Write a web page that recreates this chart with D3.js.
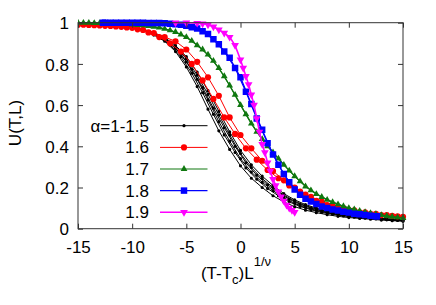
<!DOCTYPE html>
<html><head><meta charset="utf-8">
<script src="https://cdn.jsdelivr.net/npm/d3@7"></script>
<style>
html,body{margin:0;padding:0;background:#fff;}
text{font-family:"Liberation Sans",Arial,sans-serif;fill:#000;}
</style></head>
<body><svg id="chart" width="436" height="305"></svg>
<script>
// ---------- data ----------
const xTicks = [-15,-10,-5,0,5,10,15];
const yTicks = [0,0.2,0.4,0.6,0.8,1];
const yTickLabels = ["0","0.2","0.4","0.6","0.8","1"];
const legendLabels = ["\u03b1=1-1.5","1.6","1.7","1.8","1.9"];

const xInt = [-15,-14,-13,-12,-11,-10,-9,-8,-7,-6,-5,-4,-3,-2,-1,0,1,2,3,4,5,6,7,8,9,10,11,12,13,14,15];
const xHalf = [-14.5,-13.5,-12.5,-11.5,-10.5,-9.5,-8.5,-7.5,-6.5,-5.5,-4.5,-3.5,-2.5,-1.5,-0.5,0.5,1.5,2.5,3.5,4.5,5.5,6.5,7.5,8.5,9.5,10.5,11.5,12.5,13.5,14.5];

// alpha = 1 - 1.5 (black)
const black1 = [.995,.993,.99,.987,.982,.975,.962,.94,.91,.86,.785,.69,.58,.475,.385,.305,.245,.20,.16,.13,.107,.09,.078,.068,.06,.054,.05,.046,.042,.039,.036];
const black2 = [.994,.991,.988,.984,.978,.968,.954,.93,.892,.835,.755,.66,.555,.455,.37,.295,.24,.195,.16,.13,.108,.092,.079,.07,.062,.056,.051,.047,.043,.04];
const black3 = [.995,.993,.991,.988,.983,.976,.965,.946,.918,.875,.81,.725,.625,.52,.425,.34,.275,.225,.185,.15,.123,.103,.089,.077,.068,.061,.055,.05,.046,.042,.039];
const black4 = [.995,.992,.989,.985,.98,.971,.957,.935,.9,.848,.775,.685,.585,.49,.40,.32,.26,.213,.175,.143,.118,.10,.086,.075,.066,.06,.054,.05,.046,.042];
const black5 = [.996,.994,.991,.989,.984,.977,.967,.95,.924,.884,.825,.745,.652,.552,.455,.365,.297,.243,.20,.163,.134,.112,.096,.084,.073,.066,.059,.053,.049,.045,.042];
const black6 = [.996,.994,.992,.989,.985,.978,.968,.952,.928,.89,.835,.76,.67,.57,.47,.38,.31,.255,.21,.17,.14,.117,.10,.087,.076,.068,.061,.055,.05,.046,.043];

// alpha = 1.6 (red)
const red1 = [.99,.989,.987,.984,.98,.975,.965,.95,.93,.91,.87,.81,.735,.645,.54,.455,.39,.33,.28,.235,.20,.165,.135,.115,.10,.09,.08,.072,.066,.062,.058];
const red2 = [.99,.988,.985,.982,.977,.968,.953,.93,.90,.86,.80,.72,.63,.54,.46,.39,.335,.285,.245,.21,.18,.155,.132,.113,.10,.089,.08,.072,.066,.06];

// alpha = 1.7 (green)
const green1 = [1.0,.999,.998,.996,.994,.991,.987,.98,.97,.955,.93,.89,.845,.78,.695,.60,.51,.435,.37,.31,.255,.205,.168,.14,.118,.10,.086,.075,.066,.058,.052];
const green2 = [.999,.998,.997,.995,.993,.989,.984,.976,.963,.943,.912,.87,.815,.74,.65,.555,.47,.40,.34,.282,.23,.186,.154,.129,.109,.093,.08,.07,.062,.055];

// alpha = 1.8 (blue)
const blueX1 = [-12.7,-12,-11,-10,-9,-8,-7,-6,-5,-4,-3,-2,-1,0,1,2,3,4,5,6,7,8,9,10,11,12,12.6];
const blue1 = [1.0,1.0,1.0,1.0,1.0,.999,.997,.993,.985,.972,.945,.895,.83,.735,.605,.48,.36,.265,.19,.145,.12,.10,.088,.078,.07,.063,.06];
const blueX2 = [-12.5,-11.5,-10.5,-9.5,-8.5,-7.5,-6.5,-5.5,-4.5,-3.5,-2.5,-1.5,-0.5,0.5,1.5,2.5,3.5,4.5,5.5,6.5,7.5,8.5,9.5,10.5,11.5,12.5];
const blue2 = [1.0,1.0,1.0,1.0,.999,.998,.995,.99,.978,.958,.92,.86,.78,.665,.535,.415,.31,.225,.165,.132,.108,.093,.082,.073,.066,.06];

// alpha = 1.9 (magenta)
const magX = [-6,-5,-4,-3.5,-3,-2.5,-2,-1.5,-1,-0.5,0,0.25,0.5,0.75,1,1.25,1.5,1.75,2,2.25,2.5,2.75,3,3.25,3.5,3.75,4,4.25,4.5,4.75,5];
const mag1 = [1.0,1.0,.998,.995,.99,.98,.966,.95,.93,.89,.82,.78,.74,.70,.65,.60,.535,.47,.41,.37,.32,.28,.24,.21,.18,.155,.135,.115,.10,.09,.08];

// ---------- chart ----------
const svg = d3.select("#chart");
const L = 78, R = 403, T = 22.7, B = 228.7;
const x = d3.scaleLinear().domain([-15,15]).range([L,R]);
const y = d3.scaleLinear().domain([0,1]).range([B,T]);

svg.append("defs").append("clipPath").attr("id","clip")
  .append("rect").attr("x",L).attr("y",T-6).attr("width",R-L+4).attr("height",B-T+8);

const styles = [
  {color:"#000000", sym:"circle", size:8, lw:1},
  {color:"#ff0000", sym:"circle", size:30, lw:1},
  {color:"#107810", sym:"triangle", size:20, lw:1.2},
  {color:"#0000ff", sym:"square", size:42, lw:1.2},
  {color:"#ff00ff", sym:"triangleDown", size:26, lw:1.6}
];
function symPath(st){
  let t = d3.symbolCircle;
  if(st.sym==="triangle"||st.sym==="triangleDown") t = d3.symbolTriangle;
  if(st.sym==="square") t = d3.symbolSquare;
  return d3.symbol().type(t).size(st.size)();
}
function rot(st){ return st.sym==="triangleDown" ? " rotate(180)" : ""; }

const series = [
  {g:0, xs:xInt, ys:black1},{g:0, xs:xHalf, ys:black2},{g:0, xs:xInt, ys:black3},
  {g:0, xs:xHalf, ys:black4},{g:0, xs:xInt, ys:black5},{g:0, xs:xInt, ys:black6},
  {g:1, xs:xInt, ys:red1},{g:1, xs:xHalf, ys:red2},
  {g:2, xs:xInt, ys:green1},{g:2, xs:xHalf, ys:green2},
  {g:3, xs:blueX1, ys:blue1},{g:3, xs:blueX2, ys:blue2},
  {g:4, xs:magX, ys:mag1}
];

const plot = svg.append("g").attr("clip-path","url(#clip)");
const line = d3.line().x(d=>x(d[0])).y(d=>y(d[1]));
series.forEach(s=>{
  const st = styles[s.g];
  const pts = s.xs.map((v,i)=>[v,s.ys[i]]);
  const g = plot.append("g");
  g.append("path").attr("d",line(pts)).attr("fill","none")
    .attr("stroke",st.color).attr("stroke-width",st.lw);
  g.selectAll("path.m").data(pts).enter().append("path").attr("class","m")
    .attr("d",symPath(st)).attr("fill",st.color)
    .attr("transform",d=>`translate(${x(d[0])},${y(d[1])})${rot(st)}`);
});

// frame
svg.append("rect").attr("x",L).attr("y",T).attr("width",R-L).attr("height",B-T)
  .attr("fill","none").attr("stroke","#333").attr("stroke-width",1);

// axes with inside ticks
const tk = 5;
const xAxisB = d3.axisBottom(x).tickValues(xTicks).tickSize(tk).tickFormat(d=>d);
const gx = svg.append("g").attr("transform",`translate(0,${B})`).call(xAxisB);
gx.select(".domain").remove();
gx.selectAll(".tick line").attr("y2",-tk).attr("stroke","#333");
gx.selectAll(".tick text").attr("y",24.5).attr("dy",null)
  .style("font-size","17px").style("font-family","'Liberation Sans',Arial,sans-serif");

const gxt = svg.append("g").attr("transform",`translate(0,${T})`).call(d3.axisTop(x).tickValues(xTicks).tickSize(tk).tickFormat(""));
gxt.select(".domain").remove();
gxt.selectAll(".tick line").attr("y2",tk).attr("stroke","#333");

const yAxisL = d3.axisLeft(y).tickValues(yTicks).tickSize(tk).tickFormat((d,i)=>yTickLabels[i]);
const gy = svg.append("g").attr("transform",`translate(${L},0)`).call(yAxisL);
gy.select(".domain").remove();
gy.selectAll(".tick line").attr("x2",tk).attr("stroke","#333");
gy.selectAll(".tick text").attr("x",-9).attr("dy","0.36em")
  .style("font-size","17px").style("font-family","'Liberation Sans',Arial,sans-serif");

const gyr = svg.append("g").attr("transform",`translate(${R},0)`).call(d3.axisRight(y).tickValues(yTicks).tickSize(tk).tickFormat(""));
gyr.select(".domain").remove();
gyr.selectAll(".tick line").attr("x2",-tk).attr("stroke","#333");

// axis titles
const xt = svg.append("text").attr("x",236).attr("y",279).attr("text-anchor","middle").style("font-size","17px");
xt.append("tspan").text("(T-T");
xt.append("tspan").attr("dy",5).style("font-size","13px").text("c");
xt.append("tspan").attr("dy",-5).text(")L");
xt.append("tspan").attr("dy",-13).style("font-size","13px").text("1/\u03bd");

svg.append("text").attr("transform","translate(21,123) rotate(-90)")
  .attr("text-anchor","middle").style("font-size","17px").text("U(T,L)");

// legend
const legY = [125.7,147.4,169,190.6,212.3];
legendLabels.forEach((lab,i)=>{
  const st = styles[i];
  const g = svg.append("g").attr("transform",`translate(0,${legY[i]})`);
  g.append("text").attr("x",149).attr("y",6).attr("text-anchor","end").style("font-size","17px").text(lab);
  g.append("line").attr("x1",160).attr("x2",207.5).attr("y1",0).attr("y2",0)
    .attr("stroke",st.color).attr("stroke-width",st.lw);
  g.append("path").attr("d",symPath(st)).attr("fill",st.color)
    .attr("transform",`translate(184,0)${rot(st)}`);
});
</script></body></html>
